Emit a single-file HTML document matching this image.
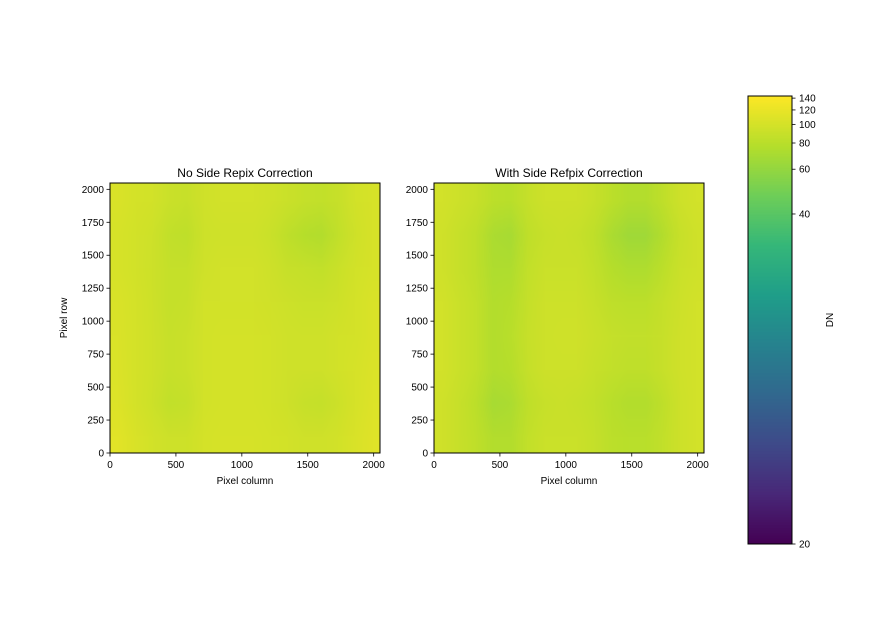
<!DOCTYPE html>
<html><head><meta charset="utf-8">
<style>
html,body{margin:0;padding:0;background:#fff;}
body{width:880px;height:640px;position:relative;overflow:hidden;font-family:"Liberation Sans",sans-serif;}
svg text{font-family:"Liberation Sans",sans-serif;fill:#000;}
canvas{position:absolute;}
</style></head>
<body>
<canvas id="imgL" width="270" height="270" style="left:110px;top:183px"></canvas>
<canvas id="imgR" width="270" height="270" style="left:434px;top:183px"></canvas>
<canvas id="cbar" width="44" height="448" style="left:748px;top:96px"></canvas>
<svg id="svg" width="880" height="640" style="position:absolute;left:0;top:0"></svg>
<script>
// Data
const axisTicks = [0, 250, 500, 750, 1000, 1250, 1500, 1750, 2000];
const xTicks = [0, 500, 1000, 1500, 2000];
const cbarTicks = [20, 40, 60, 80, 100, 120, 140];
const vmin = 20, vmax = 144;
// coarse DN grids: 8 rows (top y=2048 -> bottom y=0) x 16 columns (128 px each)
const gridLeft = [
 [104,100, 98, 92, 90, 96, 98, 98, 98, 96, 92, 88, 86, 90, 98,102],
 [102, 98, 95, 86, 84, 94, 96, 96, 96, 92, 84, 78, 76, 86, 96,102],
 [102, 98, 94, 88, 88, 96, 98, 98, 98, 95, 90, 88, 86, 92, 98,102],
 [104,100, 95, 88, 90, 98, 98, 98, 98, 97, 94, 92, 92, 95,100,104],
 [105,100, 96, 90, 92, 98,100,100,100, 98, 96, 95, 95, 98,100,104],
 [106,100, 96, 90, 92, 98,100,100,100, 98, 96, 95, 95, 98,102,106],
 [108,100, 94, 86, 88, 98,100,100,100, 98, 95, 90, 88, 94,102,108],
 [112,104, 98, 94, 94,100,102,102,102,100, 98, 96, 96, 98,104,110]
];
const gridRight = [
 [ 98, 94, 90, 82, 80, 88, 94, 94, 94, 90, 82, 76, 76, 84, 94, 98],
 [ 96, 90, 84, 72, 70, 84, 90, 92, 90, 84, 72, 66, 66, 76, 90, 96],
 [ 96, 90, 84, 74, 74, 86, 92, 92, 92, 86, 78, 74, 74, 82, 92, 96],
 [ 98, 92, 86, 76, 78, 88, 94, 94, 94, 90, 84, 82, 82, 88, 94, 98],
 [ 98, 92, 86, 76, 80, 90, 94, 96, 96, 92, 88, 86, 86, 90, 96, 98],
 [ 98, 92, 86, 76, 78, 88, 94, 94, 94, 90, 86, 84, 84, 90, 96, 98],
 [ 96, 90, 82, 70, 72, 84, 90, 92, 90, 86, 80, 76, 76, 84, 94, 98],
 [ 96, 90, 84, 76, 76, 86, 92, 92, 92, 88, 82, 80, 80, 86, 94, 98]
];

const viridis = [[68,1,84],[72,40,120],[62,74,137],[49,104,142],[38,130,142],[31,158,137],[53,183,121],[110,206,88],[181,222,43],[253,231,37]];
function cmap(t){t=Math.max(0,Math.min(1,t));const p=t*(viridis.length-1);const i=Math.min(Math.floor(p),viridis.length-2);const f=p-i;const a=viridis[i],b=viridis[i+1];return [0,1,2].map(k=>Math.round(a[k]+(b[k]-a[k])*f));}
function norm(v){const x=Math.max(0,(v-vmin)/(vmax-vmin));return Math.log(1000*x+1)/Math.log(1001);}

function drawImg(id,grid){
  const c=document.getElementById(id),ctx=c.getContext('2d');
  const n=grid.length, m=grid[0].length;
  const s=document.createElement('canvas');s.width=m;s.height=n;
  const sc=s.getContext('2d');const im=sc.createImageData(m,n);
  grid.forEach((row,r)=>row.forEach((v,k)=>{const col=cmap(norm(v));const o=(r*m+k)*4;im.data[o]=col[0];im.data[o+1]=col[1];im.data[o+2]=col[2];im.data[o+3]=255;}));
  sc.putImageData(im,0,0);
  ctx.imageSmoothingEnabled=true;ctx.drawImage(s,0,0,c.width,c.height);
}
drawImg('imgL',gridLeft);drawImg('imgR',gridRight);

const cb=document.getElementById('cbar'),cctx=cb.getContext('2d');
for(let y=0;y<448;y++){const col=cmap(1-y/447);cctx.fillStyle=`rgb(${col})`;cctx.fillRect(0,y,44,1);}

const NS='http://www.w3.org/2000/svg',svg=document.getElementById('svg');
function el(tag,attrs,text){const e=document.createElementNS(NS,tag);for(const k in attrs)e.setAttribute(k,attrs[k]);if(text!==undefined)e.textContent=text;svg.appendChild(e);return e;}
const W=270;
function xs(x0,v){return x0+v/2048*W;}
function ys(v){return 453-v/2048*W;}

function panel(x0,title,showYLabel,prefix){
  let e=el('rect',{x:x0,y:183,width:W,height:W,fill:'none',stroke:'#000','stroke-width':1});
  
  xTicks.forEach(v=>{const x=xs(x0,v);
    el('line',{x1:x,x2:x,y1:453,y2:456.5,stroke:'#000','stroke-width':0.8});
    const t=el('text',{x:x,y:468,'font-size':10,'text-anchor':'middle'},v);
    });
  axisTicks.forEach(v=>{const y=ys(v);
    el('line',{x1:x0-3.5,x2:x0,y1:y,y2:y,stroke:'#000','stroke-width':0.8});
    const t=el('text',{x:x0-6,y:y+3.5,'font-size':10,'text-anchor':'end'},v);
    });
  e=el('text',{x:x0+W/2,y:177,'font-size':12,'text-anchor':'middle'},title);
  
  e=el('text',{x:x0+W/2,y:484,'font-size':10,'text-anchor':'middle'},'Pixel column');
  
  if(showYLabel){e=el('text',{x:0,y:0,'font-size':10,'text-anchor':'middle',transform:'translate(67,318) rotate(-90)'},'Pixel row');
    }
}
panel(110,'No Side Repix Correction',true,'left');
panel(434,'With Side Refpix Correction',false,'right');

let f=el('rect',{x:748,y:96,width:44,height:448,fill:'none',stroke:'#000','stroke-width':1});

cbarTicks.forEach(v=>{const y=544-norm(v)*448;
  el('line',{x1:792,x2:795.5,y1:y,y2:y,stroke:'#000','stroke-width':0.8});
  const t=el('text',{x:799,y:y+3.5,'font-size':10},v);
  });
f=el('text',{x:0,y:0,'font-size':10,'text-anchor':'middle',transform:'translate(833,320) rotate(-90)'},'DN');

</script>
</body></html>
